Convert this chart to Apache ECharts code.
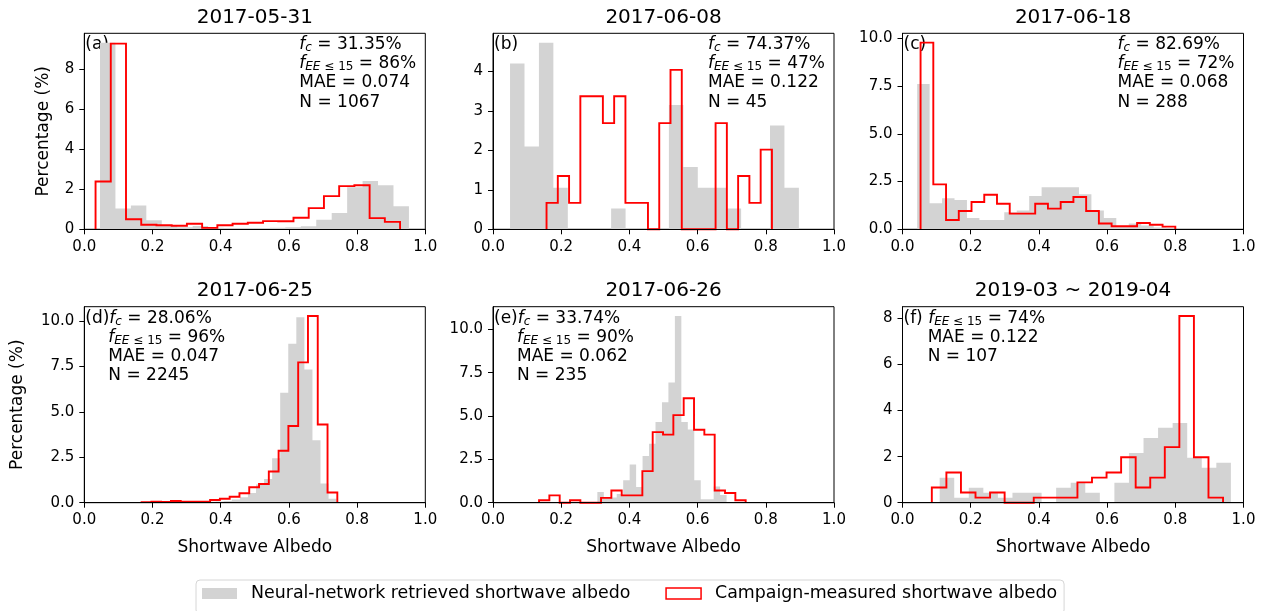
<!DOCTYPE html>
<html><head><meta charset="utf-8">
<script src="https://cdn.jsdelivr.net/npm/echarts@6/dist/echarts.min.js"></script>
<style>html,body{margin:0;padding:0;background:#fff}#c{width:1267px;height:611px}</style>
</head><body><div id="c"></div>
<script>
const FONT = 'DejaVu Sans';
const LEG_GRAY = 'Neural-network retrieved shortwave albedo';
const LEG_RED = 'Campaign-measured shortwave albedo';

// ---- panel texts ----
const titles = ['2017-05-31', '2017-06-08', '2017-06-18', '2017-06-25', '2017-06-26', '2019-03 ~ 2019-04'];
const letters = ['(a)', '(b)', '(c)', '(d)', '(e)', '(f)'];
const fcVals = ['31.35%', '74.37%', '82.69%', '28.06%', '33.74%', null];
const feeVals = ['86%', '47%', '72%', '96%', '90%', '74%'];
const maeVals = ['0.074', '0.122', '0.068', '0.047', '0.062', '0.122'];
const nVals = ['1067', '45', '288', '2245', '235', '107'];

// ---- histogram data (range = [first edge, last edge], 20 equal bins) ----
const aGrayRange = [0.046, 0.952];
const aGray = [9.33, 1.04, 1.19, 0.45, 0.18, 0.1, 0.17, 0.08, 0.05, 0.06, 0.05, 0.08, 0.1, 0.15, 0.48, 0.82, 2.1, 2.42, 2.2, 1.15];
const aRedRange = [0.033, 0.926];
const aRed = [2.39, 9.28, 0.5, 0.23, 0.2, 0.18, 0.28, 0.07, 0.2, 0.28, 0.33, 0.41, 0.4, 0.58, 1.06, 1.66, 2.16, 2.2, 0.56, 0.37];

const bGrayRange = [0.05, 0.897];
const bGray = [4.2, 2.1, 4.73, 1.05, 0, 0, 0, 0.53, 0, 0, 0, 3.15, 1.58, 1.05, 1.05, 0.53, 0, 0, 2.63, 1.05];
const bRedRange = [0.157, 0.818];
const bRed = [0.67, 1.35, 0.67, 3.37, 3.37, 2.69, 3.37, 0.67, 0.67, 0, 2.69, 4.04, 0, 0, 0, 2.69, 0, 1.35, 0.67, 2.02];

const cGrayRange = [0.043, 0.773];
const cGray = [7.6, 1.36, 1.63, 1.53, 0.59, 0.49, 0.49, 0.89, 0.99, 1.74, 2.2, 2.2, 2.2, 1.84, 0.99, 0.59, 0.14, 0.31, 0.2, 0.1];
const cRedRange = [0.053, 0.80];
const cRed = [9.77, 2.35, 0.49, 0.96, 1.43, 1.81, 1.34, 0.82, 0.82, 1.34, 1.08, 1.43, 1.69, 0.96, 0.3, 0.16, 0.16, 0.33, 0.24, 0.14];

const dGrayRange = [0.267, 0.740];
const dGray = [0.02, 0.02, 0.03, 0.03, 0.05, 0.07, 0.1, 0.18, 0.3, 0.53, 1.0, 1.3, 2.45, 6.05, 8.74, 10.2, 7.33, 3.44, 1.05, 0.22];
const dRedRange = [0.168, 0.742];
const dRed = [0.03, 0.06, 0.04, 0.09, 0.05, 0.05, 0.05, 0.15, 0.22, 0.33, 0.52, 0.85, 1.03, 1.72, 2.86, 4.22, 7.72, 10.27, 4.3, 0.56];

const eGrayRange = [0.306, 0.685];
const eGray = [0.62, 0.3, 0.3, 0.5, 1.3, 2.2, 0.9, 2.7, 3.4, 4.66, 5.8, 6.94, 10.77, 4.66, 4.22, 1.3, 0.2, 0.2, 0.93, 0.45];
const eRedRange = [0.135, 0.741];
const eRed = [0.14, 0.42, 0, 0.14, 0, 0, 0.28, 0.7, 0.42, 0.42, 1.82, 4.07, 3.93, 5.05, 6.03, 4.21, 3.93, 0.7, 0.56, 0.14];

const fGrayRange = [0.109, 0.963];
const fGray = [1.08, 0.22, 0.65, 0.43, 0.22, 0.43, 0.43, 0, 0.65, 0.87, 0.43, 0, 0.87, 2.16, 2.81, 3.25, 3.46, 1.95, 1.52, 1.73];
const fRedRange = [0.086, 0.94];
const fRed = [0.66, 1.31, 0.44, 0.22, 0.44, 0, 0, 0.22, 0.22, 0.22, 0.88, 1.09, 1.31, 1.97, 0.66, 1.09, 2.41, 8.1, 1.97, 0.22];

// ---- tick values ----
const xTicks = [0, 0.2, 0.4, 0.6, 0.8, 1.0];
const yTicksA = [0, 2, 4, 6, 8];
const yTicksB = [0, 1, 2, 3, 4];
const yTicksC = [0, 2.5, 5, 7.5, 10];
const yTicksD = [0, 2.5, 5, 7.5, 10];
const yTicksE = [0, 2.5, 5, 7.5, 10];
const yTicksF = [0, 2, 4, 6, 8];
const yDecimals = [0, 0, 1, 1, 1, 0];

const grays = [[aGrayRange, aGray], [bGrayRange, bGray], [cGrayRange, cGray], [dGrayRange, dGray], [eGrayRange, eGray], [fGrayRange, fGray]];
const reds = [[aRedRange, aRed], [bRedRange, bRed], [cRedRange, cRed], [dRedRange, dRed], [eRedRange, eRed], [fRedRange, fRed]];
const yTicks = [yTicksA, yTicksB, yTicksC, yTicksD, yTicksE, yTicksF];

// ---- layout ----
const colLeft = [84.3, 493, 902.5];
const rowTop = [33.3, 306.7];
const GW = 341, GH = 196;

function stepPoints(range, vals) {
  const n = vals.length, pts = [];
  const edge = i => range[0] + (range[1] - range[0]) * i / n;
  pts.push([edge(0), 0]);
  vals.forEach((v, i) => { pts.push([edge(i), v]); pts.push([edge(i + 1), v]); });
  pts.push([edge(n), 0]);
  return pts;
}

const grids = [], xAxes = [], yAxes = [], series = [], graphics = [];
const rich = {
  n: { fontFamily: FONT, fontSize: 17, color: '#000' },
  i: { fontFamily: FONT, fontSize: 17, fontStyle: 'italic', color: '#000' },
  s: { fontFamily: FONT, fontSize: 12, fontStyle: 'italic', color: '#000', padding: [7, 0, 0, 0] },
  u: { fontFamily: FONT, fontSize: 12, color: '#000', padding: [7, 0, 0, 0] }
};
function addText(text, x, y) {
  graphics.push({ type: 'text', x: x, y: y, silent: true,
    style: { text: text, rich: rich, fill: '#000', font: '17px "DejaVu Sans"',
      align: 'left', verticalAlign: 'middle', textAlign: 'left', textVerticalAlign: 'middle' } });
}

for (let p = 0; p < 6; p++) {
  const row = Math.floor(p / 3), col = p % 3;
  const L = colLeft[col], T = rowTop[row];
  grids.push({ left: L, top: T, width: GW, height: GH, show: true, borderColor: '#000', borderWidth: 1, backgroundColor: 'transparent', containLabel: false });
  xAxes.push({
    gridIndex: p, type: 'value', min: 0, max: 1, interval: 0.2, z: 5,
    axisLine: { show: true, onZero: false, lineStyle: { color: '#000', width: 1 } },
    axisTick: { show: true, length: 5, lineStyle: { color: '#000', width: 1 } },
    axisLabel: { margin: 10, fontSize: 15, fontFamily: FONT, color: '#000', formatter: v => v.toFixed(1) },
    splitLine: { show: false },
    name: row === 1 ? 'Shortwave Albedo' : '', nameLocation: 'middle', nameGap: 36,
    nameTextStyle: { fontSize: 17, fontFamily: FONT, color: '#000' }
  });
  const allV = grays[p][1].concat(reds[p][1]);
  const ymax = Math.max.apply(null, allV) * 1.05;
  yAxes.push({
    gridIndex: p, type: 'value', min: 0, max: ymax, z: 5,
    axisLine: { show: true, onZero: false, lineStyle: { color: '#000', width: 1 } },
    axisTick: { show: true, length: 5, customValues: yTicks[p], lineStyle: { color: '#000', width: 1 } },
    axisLabel: { margin: 10, fontSize: 15, fontFamily: FONT, color: '#000', customValues: yTicks[p],
      formatter: v => Number(v).toFixed(yDecimals[p]) },
    splitLine: { show: false },
    name: col === 0 ? 'Percentage (%)' : '', nameLocation: 'middle', nameGap: row === 0 ? 32 : 58,
    nameTextStyle: { fontSize: 17, fontFamily: FONT, color: '#000' }
  });
  const gPts = stepPoints(grays[p][0], grays[p][1]);
  const rPts = stepPoints(reds[p][0], reds[p][1]);
  series.push({
    type: 'custom', name: LEG_GRAY, coordinateSystem: 'cartesian2d', xAxisIndex: p, yAxisIndex: p,
    silent: true, itemStyle: { color: '#d3d3d3' }, z: 2,
    data: [[grays[p][0][0], 0]],
    renderItem: (params, api) => ({ type: 'polygon', shape: { points: gPts.map(q => api.coord(q)) }, style: { fill: '#d3d3d3', stroke: null } })
  });
  series.push({
    type: 'custom', name: LEG_RED, coordinateSystem: 'cartesian2d', xAxisIndex: p, yAxisIndex: p,
    silent: true, itemStyle: { color: '#ff0000' }, z: 3,
    data: [[reds[p][0][0], 0]],
    renderItem: (params, api) => ({ type: 'polyline', shape: { points: rPts.map(q => api.coord(q)) }, style: { stroke: '#ff0000', lineWidth: 1.9, fill: null, lineJoin: 'miter' } })
  });

  // title
  graphics.push({ type: 'text', x: L + GW / 2, y: T - 16, silent: true,
    style: { text: titles[p], fill: '#000', font: '20px "DejaVu Sans"', align: 'center', verticalAlign: 'middle', textAlign: 'center', textVerticalAlign: 'middle' } });

  const lineY = [T + 11.5, T + 30.5, T + 49.7, T + 69];
  const lines = [];
  if (fcVals[p]) lines.push('{i|f}{s|c}{n| = ' + fcVals[p] + '}');
  lines.push('{i|f}{s|EE}{u| ≤ 15}{n| = ' + feeVals[p] + '}');
  lines.push('{n|MAE = ' + maeVals[p] + '}');
  lines.push('{n|N = ' + nVals[p] + '}');
  if (row === 0) {
    addText('{n|' + letters[p] + '}', L + 1, lineY[0]);
    lines.forEach((t, k) => addText(t, L + 215, lineY[k]));
  } else {
    lines.forEach((t, k) => {
      if (k === 0) addText('{n|' + letters[p] + (fcVals[p] ? '' : ' ') + '}' + t, L + 1, lineY[k]);
      else addText(t, L + (fcVals[p] ? 24 : 25.2), lineY[k]);
    });
  }
}

const chart = echarts.init(document.getElementById('c'), null, { renderer: 'canvas' });
chart.setOption({
  backgroundColor: '#fff',
  animation: false,
  grid: grids, xAxis: xAxes, yAxis: yAxes, series: series,
  graphic: { elements: graphics },
  legend: {
    left: 196, top: 580, orient: 'horizontal', padding: [5, 7, 12, 6],
    itemWidth: 35, itemHeight: 11, itemGap: 35, selectedMode: false,
    backgroundColor: '#fff', borderColor: '#d6d6d6', borderWidth: 1, borderRadius: 4,
    textStyle: { fontFamily: FONT, fontSize: 17.4, color: '#000', padding: [4, 0, 0, 9] },
    data: [
      { name: LEG_GRAY, icon: 'rect', itemStyle: { color: '#d3d3d3', borderWidth: 0 } },
      { name: LEG_RED, icon: 'rect', itemStyle: { color: '#ffffff', borderColor: '#ff0000', borderWidth: 1.5 } }
    ]
  }
});
</script></body></html>
